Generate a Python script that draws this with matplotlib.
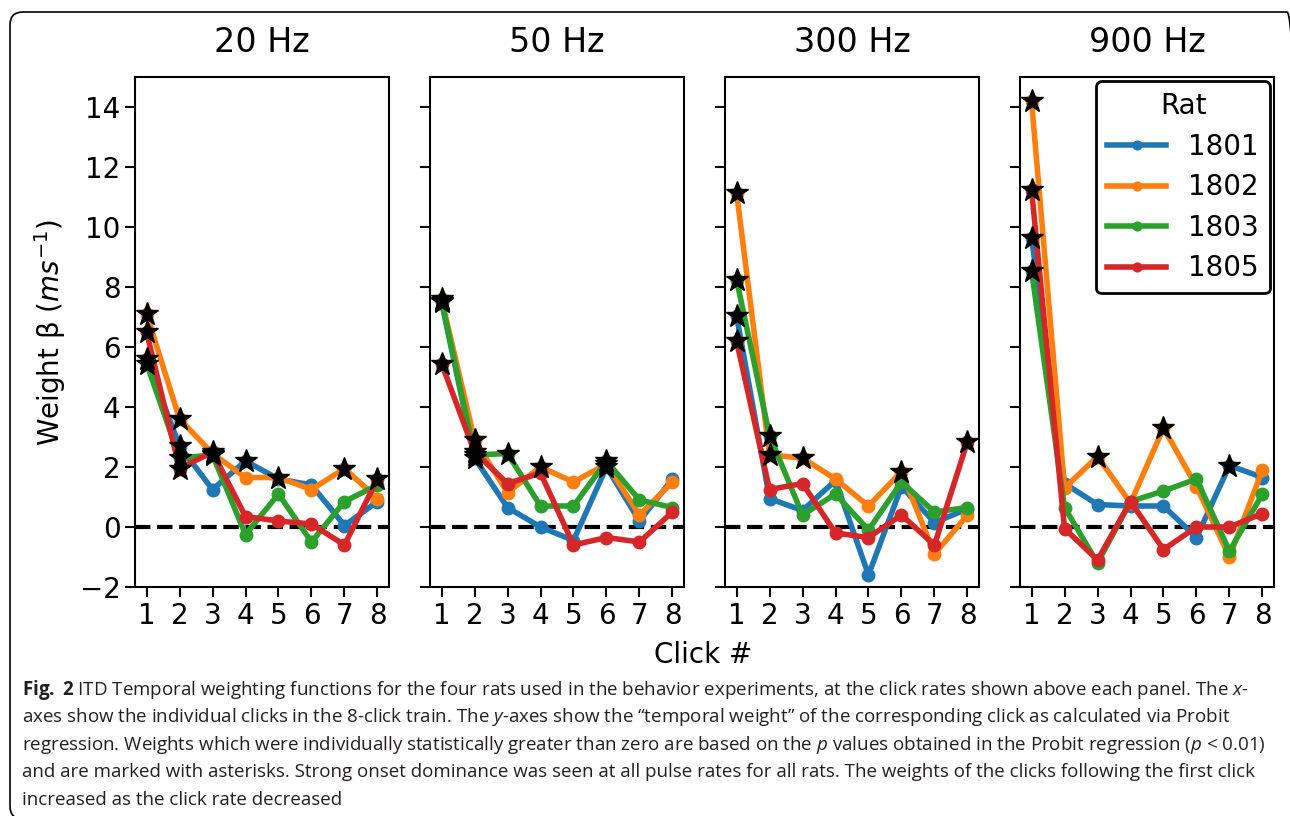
import numpy as np
import matplotlib.pyplot as plt
from matplotlib.patches import FancyBboxPatch

# data
clicks = [1, 2, 3, 4, 5, 6, 7, 8]
rates = ['20 Hz', '50 Hz', '300 Hz', '900 Hz']
rats = ['1801', '1802', '1803', '1805']
colors = ['#1f77b4', '#ff7f0e', '#2ca02c', '#d62728']

w_20 = {'1801': [5.6, 2.7, 1.25, 2.2, 1.6, 1.4, 0.05, 0.85],
        '1802': [7.1, 3.6, 2.45, 1.65, 1.65, 1.25, 1.95, 0.95],
        '1803': [5.45, 2.3, 2.4, -0.25, 1.1, -0.5, 0.85, 1.4],
        '1805': [6.5, 1.95, 2.5, 0.35, 0.2, 0.1, -0.6, 1.6]}
w_50 = {'1801': [7.5, 2.3, 0.65, 0.0, -0.45, 2.0, 0.2, 1.6],
        '1802': [7.6, 2.9, 1.15, 2.0, 1.5, 2.1, 0.4, 1.5],
        '1803': [7.55, 2.4, 2.45, 0.7, 0.7, 2.2, 0.9, 0.65],
        '1805': [5.45, 2.5, 1.45, 1.8, -0.6, -0.35, -0.5, 0.5]}
w_300 = {'1801': [7.05, 0.95, 0.55, 1.55, -1.6, 1.35, 0.15, 0.6],
         '1802': [11.15, 2.4, 2.3, 1.6, 0.7, 1.85, -0.9, 0.4],
         '1803': [8.25, 3.05, 0.4, 1.1, -0.1, 1.5, 0.5, 0.65],
         '1805': [6.2, 1.25, 1.45, -0.2, -0.35, 0.4, -0.6, 2.85]}
w_900 = {'1801': [9.65, 1.45, 0.75, 0.7, 0.7, -0.35, 2.05, 1.65],
         '1802': [14.2, 1.3, 2.35, 0.8, 3.3, 1.35, -1.0, 1.9],
         '1803': [8.55, 0.65, -1.2, 0.85, 1.2, 1.6, -0.8, 1.1],
         '1805': [11.25, -0.05, -1.1, 0.85, -0.75, 0.0, 0.0, 0.45]}

# clicks marked significant (asterisks)
sig_20 = {'1801': [1, 2, 4], '1802': [1, 2, 3, 5, 7], '1803': [1, 2, 3], '1805': [1, 2, 3, 8]}
sig_50 = {'1801': [1, 2, 6], '1802': [1, 2, 4, 6], '1803': [1, 2, 3, 6], '1805': [1, 2]}
sig_300 = {'1801': [1], '1802': [1, 2, 3, 6], '1803': [1, 2], '1805': [1, 8]}
sig_900 = {'1801': [1, 7], '1802': [1, 3, 5], '1803': [1], '1805': [1]}

weights = [w_20, w_50, w_300, w_900]
sigs = [sig_20, sig_50, sig_300, sig_900]

W, H = 1290, 816
fig = plt.figure(figsize=(W / 100, H / 100), dpi=100)

lefts = [135, 430, 725, 1020]
ax_w, top, bottom = 254, 77, 587

axes = []
for i in range(4):
    ax = fig.add_axes([lefts[i] / W, 1 - bottom / H, ax_w / W, (bottom - top) / H])
    axes.append(ax)
    data = weights[i]
    for r, c in zip(rats, colors):
        ax.plot(clicks, data[r], '-o', color=c, lw=4, ms=9, label=r)
    for r in rats:
        xs = sigs[i][r]
        ys = [data[r][k - 1] for k in xs]
        ax.plot(xs, ys, '*', color='black', ms=17, zorder=5)
    ax.axhline(0, color='black', ls='--', lw=3, zorder=1)
    ax.set_ylim(-2, 15)
    ax.set_xlim(0.65, 8.35)
    ax.set_xticks(clicks)
    ax.set_yticks(np.arange(-2, 15, 2))
    ax.set_title(rates[i], fontsize=24, pad=18)
    ax.tick_params(labelsize=20, width=1.5, length=7)
    for s in ax.spines.values():
        s.set_linewidth(1.5)
    if i > 0:
        ax.set_yticklabels([])

axes[0].set_ylabel(r'Weight β $(ms^{-1})$', fontsize=20, labelpad=8)
fig.text(703 / W, 1 - 655 / H, 'Click #', fontsize=20, ha='center', va='center')

leg = axes[3].legend(title='Rat', fontsize=20, title_fontsize=20, loc='upper right',
                     borderaxespad=0.15, handlelength=2.1, markerscale=0.7,
                     labelspacing=0.45)
leg.get_frame().set_edgecolor('black')
leg.get_frame().set_linewidth(2)
leg.get_frame().set_alpha(1)

# caption frame
box = FancyBboxPatch((0.10, -0.03), 12.9, 8.07, boxstyle='round,pad=0,rounding_size=0.13',
                     transform=fig.dpi_scale_trans, fill=False, ec='black', lw=1.2)
fig.patches.append(box)

cap = [r'$\mathbf{Fig.}$ $\mathbf{2}$ ITD Temporal weighting functions for the four rats used in the behavior experiments, at the click rates shown above each panel. The $x$-',
       r'axes show the individual clicks in the 8-click train. The $y$-axes show the “temporal weight” of the corresponding click as calculated via Probit',
       r'regression. Weights which were individually statistically greater than zero are based on the $p$ values obtained in the Probit regression ($p$ < 0.01)',
       'and are marked with asterisks. Strong onset dominance was seen at all pulse rates for all rats. The weights of the clicks following the first click',
       'increased as the click rate decreased']
plt.rcParams['mathtext.rm'] = 'Open Sans'
plt.rcParams['mathtext.it'] = 'Open Sans:italic'
plt.rcParams['mathtext.bf'] = 'Open Sans:bold'
cap_y = [690, 717, 745, 772, 800]
for line, y in zip(cap, cap_y):
    fig.text(22 / W, 1 - y / H, line, fontsize=13.5, family='Open Sans', color='#231f20',
             va='center', ha='left', math_fontfamily='custom')

fig.savefig('out.png', dpi=100)
